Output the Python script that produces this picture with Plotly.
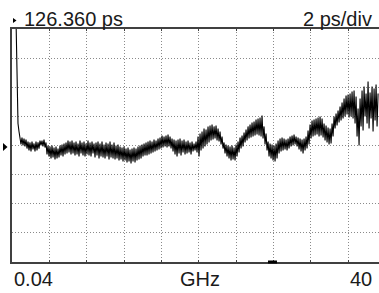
import numpy as np
import plotly.graph_objects as go

# Group delay trace (ps), one sample per ~0.107 GHz
delay_ps = [
    135.08, 129.59, 127.87, 127.32, 126.98, 126.43, 126.91, 126.36, 126.84, 126.29,
    126.77, 126.15, 126.63, 126.02, 126.57, 125.95, 126.63, 126.09, 126.50, 125.95,
    126.63, 126.02, 126.57, 126.15, 126.70, 126.36, 126.70, 126.29, 126.77, 126.22,
    126.57, 125.74, 126.36, 125.60, 126.29, 125.47, 126.36, 125.54, 126.22, 125.40,
    126.29, 125.47, 126.15, 125.54, 126.36, 125.67, 126.43, 125.60, 126.50, 125.74,
    126.57, 125.81, 126.70, 125.88, 126.63, 125.74, 126.70, 125.81, 126.57, 125.67,
    126.63, 125.74, 126.50, 125.60, 126.70, 125.81, 126.57, 125.67, 126.63, 125.60,
    126.50, 125.74, 126.70, 125.67, 126.57, 125.60, 126.63, 125.81, 126.50, 125.54,
    126.57, 125.67, 126.63, 125.47, 126.50, 125.60, 126.63, 125.54, 126.43, 125.47,
    126.57, 125.60, 126.50, 125.40, 126.63, 125.54, 126.43, 125.47, 126.57, 125.40,
    126.36, 125.47, 126.43, 125.33, 126.29, 125.40, 126.22, 125.26, 126.29, 125.33,
    126.15, 125.19, 126.22, 125.26, 126.09, 125.12, 126.15, 125.26, 126.22, 125.19,
    126.15, 125.33, 126.29, 125.40, 126.36, 125.47, 126.43, 125.60, 126.50, 125.67,
    126.57, 125.67, 126.63, 125.74, 126.70, 125.81, 126.63, 125.88, 126.77, 125.95,
    126.70, 126.02, 126.84, 126.09, 126.91, 126.15, 127.05, 126.22, 126.98, 126.29,
    127.05, 126.22, 127.12, 126.29, 126.98, 126.15, 126.84, 125.95, 126.77, 125.74,
    126.70, 125.60, 126.77, 125.81, 126.84, 125.67, 126.70, 125.88, 126.77, 125.74,
    126.63, 125.81, 126.70, 125.88, 126.57, 125.74, 126.63, 125.95, 126.50, 126.02,
    126.63, 125.88, 126.98, 125.60, 127.18, 126.02, 127.32, 126.15, 127.53, 126.29,
    127.46, 126.43, 127.67, 126.57, 127.73, 126.70, 127.80, 126.77, 127.67, 126.84,
    127.73, 126.70, 127.53, 126.63, 127.32, 126.43, 126.98, 126.15, 126.57, 125.81,
    126.43, 125.60, 126.36, 125.47, 126.29, 125.33, 126.36, 125.40, 126.22, 125.33,
    126.43, 125.60, 126.63, 125.88, 126.91, 126.15, 127.05, 126.29, 127.25, 126.57,
    127.46, 126.70, 127.67, 126.84, 127.80, 126.91, 127.94, 126.98, 128.01, 127.05,
    128.15, 127.12, 128.21, 127.05, 128.28, 126.98, 128.42, 126.84, 127.67, 126.43,
    127.18, 126.02, 126.63, 125.60, 126.50, 125.47, 126.43, 125.33, 126.36, 125.26,
    126.50, 125.47, 126.70, 125.81, 126.84, 125.95, 126.91, 126.02, 126.84, 126.09,
    126.77, 126.02, 126.84, 126.15, 126.98, 126.29, 127.05, 126.36, 127.12, 126.43,
    126.98, 126.29, 126.91, 126.09, 126.84, 125.95, 126.77, 125.81, 126.84, 126.02,
    126.98, 126.15, 127.39, 126.43, 127.80, 126.84, 128.08, 126.98, 128.15, 127.05,
    128.21, 127.12, 128.28, 126.98, 128.35, 127.05, 128.21, 126.91, 127.87, 126.70,
    127.73, 126.57, 127.60, 126.43, 127.53, 126.50, 127.87, 126.98, 128.35, 127.53,
    128.56, 127.73, 128.76, 127.94, 129.04, 128.08, 129.31, 128.21, 129.59, 128.35,
    129.79, 128.49, 129.86, 128.28, 129.93, 128.35, 130.07, 128.21, 130.14, 127.87,
    129.73, 126.98, 128.90, 126.36, 129.59, 127.67, 130.14, 127.39, 130.41, 128.35,
    129.93, 127.87, 130.76, 127.53, 130.00, 128.21, 130.41, 127.32, 130.28, 128.08,
    130.55, 127.67, 129.93,
]
# Sweep grid (GHz) of the displayed points
freq_ghz = np.linspace(0.468, 39.22, len(delay_ps))

ref_ps = 126.360
ps_per_div = 2
x_start, x_stop = 0.04, 40.0
x_div = (x_stop - x_start) / 10
x_view_end = 39.32
top_label = "126.360 ps"
scale_label = "2 ps/div"
start_label = "0.04"
unit_label = "GHz"
stop_label = "40"

font = dict(family="Liberation Sans, Arial, sans-serif", size=20, color="#1a1a1a")

fig = go.Figure()
fig.add_trace(go.Scatter(
    x=freq_ghz, y=delay_ps, mode="lines",
    line=dict(color="black", width=1.1), hoverinfo="skip", showlegend=False,
))

fig.update_layout(
    width=379, height=293,
    margin=dict(l=12, r=0, t=29, b=31),
    paper_bgcolor="white", plot_bgcolor="white",
    showlegend=False,
    xaxis=dict(
        range=[x_start, x_view_end], tick0=x_start, dtick=x_div,
        showgrid=True, gridcolor="#8a8a8a", gridwidth=1, griddash="1px,2px",
        showticklabels=False, zeroline=False,
        showline=True, linecolor="#404040", linewidth=2, mirror="ticks",
        ticks="inside", ticklen=2, tickcolor="#404040",
    ),
    yaxis=dict(
        range=[ref_ps - 4 * ps_per_div, ref_ps + 4 * ps_per_div],
        tick0=ref_ps, dtick=ps_per_div,
        showgrid=True, gridcolor="#8a8a8a", gridwidth=1, griddash="1px,2px",
        showticklabels=False, zeroline=False,
        showline=True, linecolor="#404040", linewidth=2, mirror=False, ticks="",
    ),
)

ann = dict(xref="paper", yref="paper", showarrow=False, font=font, borderpad=0)
fig.add_annotation(text=top_label, x=0.030, y=1.043, xanchor="left", yanchor="middle", **ann)
fig.add_annotation(text=scale_label, x=0.9837, y=1.043, xanchor="right", yanchor="middle", **ann)
fig.add_annotation(text=start_label, x=0.002, y=-0.071, xanchor="left", yanchor="middle", **ann)
fig.add_annotation(text=unit_label, x=0.5123, y=-0.071, xanchor="center", yanchor="middle", **ann)
fig.add_annotation(text=stop_label, x=0.9837, y=-0.071, xanchor="right", yanchor="middle", **ann)

# reference-level markers
fig.add_shape(type="path", xref="paper", yref="paper",
              path="M -0.0245 0.5107 L -0.0245 0.4764 L -0.0123 0.4936 Z",
              fillcolor="black", line=dict(width=0))
fig.add_shape(type="path", xref="paper", yref="paper",
              path="M 0.0027 1.0472 L 0.0027 1.0258 L 0.0123 1.0365 Z",
              fillcolor="black", line=dict(width=0))
# small marker on the frequency axis
fig.add_shape(type="line", xref="x", yref="paper", x0=27.44, x1=28.40, y0=0, y1=0,
              line=dict(color="black", width=3))

fig.write_html("out.html", config={"displayModeBar": False, "staticPlot": True},
               post_script="document.body.style.margin='0px';")
